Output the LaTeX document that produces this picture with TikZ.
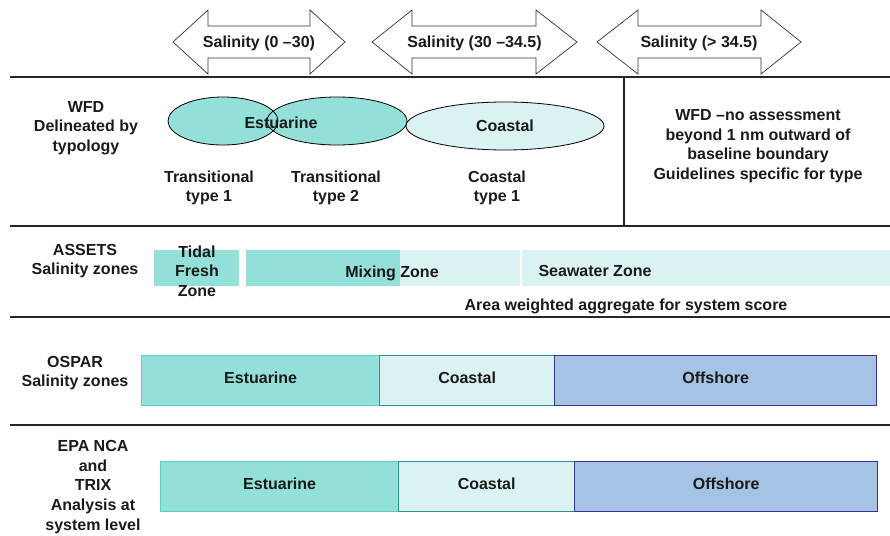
\documentclass[tikz,border=0pt]{standalone}
\usepackage{fontspec}
\setmainfont{Liberation Sans}
\usetikzlibrary{shapes.geometric}
\definecolor{estu}{HTML}{93E0D9}
\definecolor{estuline}{HTML}{5CCFCA}
\definecolor{coast}{HTML}{DAF3F2}
\definecolor{coastline}{HTML}{2A9490}
\definecolor{offsh}{HTML}{A4C3E5}
\definecolor{offshline}{HTML}{3F2F8F}
\definecolor{ink}{HTML}{1A1A1A}
\tikzset{
  lbl/.style={font=\bfseries\fontsize{16}{19.6}\selectfont,text=ink,align=center,inner sep=0pt},
  zonebox/.style={lbl,minimum height=50,text height=11.5pt,text depth=6pt,anchor=north west,line width=1.3pt},
  sepline/.style={line width=1.6pt,black!85},
  oval/.style={ellipse,line width=0.8pt,minimum height=48,inner sep=0pt}
}
\begin{document}
\begin{tikzpicture}[x=1pt,y=-1pt]
        \useasboundingbox (0,0) rectangle (890,535);
        \foreach \xa/\xb/\xc/\xd/\txt [count=\i] in {173/208/310/345/{Salinity (0 –30)},372/412/536/577/{Salinity (30 –34.5)},597/638/761/801/{Salinity (> 34.5)}}{
          \draw[line width=0.7pt,black!80,fill=white](\xa,42)--(\xb,10)--(\xb,26)--(\xc,26)--(\xc,10)--(\xd,42)--(\xc,74)--(\xc,58)--(\xb,58)--(\xb,74)--cycle;
          \node[lbl](sal\i)at({(\xa+\xd)/2},43){\txt};
        }
        \foreach \y in {77,226,317,425} \draw[sepline](10,\y)--(890,\y);
        \draw[sepline](624,77)--(624,226);
        % WFD
        \node[lbl](wfd)at(86,128){WFD\\Delineated by\\typology};
        \node[oval,fill=estu,minimum width=110](trans1)at(223,121){};
        \node[oval,fill=estu,draw,minimum width=140](trans2)at(337,121){};
        \draw[line width=0.8pt](trans1.center) ellipse [x radius=55,y radius=24];
        \node[lbl](estuarine)at(281,123){Estuarine};
        \node[oval,lbl,fill=coast,draw,minimum width=198,minimum height=48](coastal)at(505,126){Coastal};
        \node[lbl](tt1)at(209,188){Transitional\\type 1};
        \node[lbl](tt2)at(336,188){Transitional\\type 2};
        \node[lbl](ct1)at(497,188){Coastal\\type 1};
        \node[lbl](nowfd)at(758,146){WFD –no assessment\\beyond 1 nm outward of\\baseline boundary\\Guidelines specific for type};
        % ASSETS
        \node[lbl](assets)at(85,261){ASSETS\\Salinity zones};
        \fill[estu](154,250)rectangle(239,286);
        \fill[estu](246,250)rectangle(400,286);
        \fill[coast](400,250)rectangle(520,286);
        \fill[coast](522,250)rectangle(890,286);
        \node[lbl](tidal)at(197,271){Tidal\\Fresh\\Zone};
        \node[lbl](mixing)at(392,273){Mixing Zone};
        \node[lbl](seawater)at(595,271){Seawater Zone};
        \node[lbl](aggregate)at(626,306){Area weighted aggregate for system score};
        % OSPAR
        \node[lbl](ospar)at(75,373){OSPAR\\Salinity zones};
        \node[zonebox,fill=estu,draw=estuline,minimum width=238](osest)at(141,355){Estuarine};
        \node[zonebox,fill=coast,draw=coastline,minimum width=175](oscoa)at(379,355){Coastal};
        \node[zonebox,fill=offsh,draw=offshline,minimum width=322](osoff)at(554,355){Offshore};
        % EPA NCA / TRIX
        \node[lbl](epa)at(93,487){EPA NCA\\and\\TRIX\\Analysis at\\system level};
        \node[zonebox,fill=estu,draw=estuline,minimum width=238](epaest)at(160,461){Estuarine};
        \node[zonebox,fill=coast,draw=coastline,minimum width=176](epacoa)at(398,461){Coastal};
        \node[zonebox,fill=offsh,draw=offshline,minimum width=303](epaoff)at(574,461){Offshore};
    \end{tikzpicture}
\end{document}
